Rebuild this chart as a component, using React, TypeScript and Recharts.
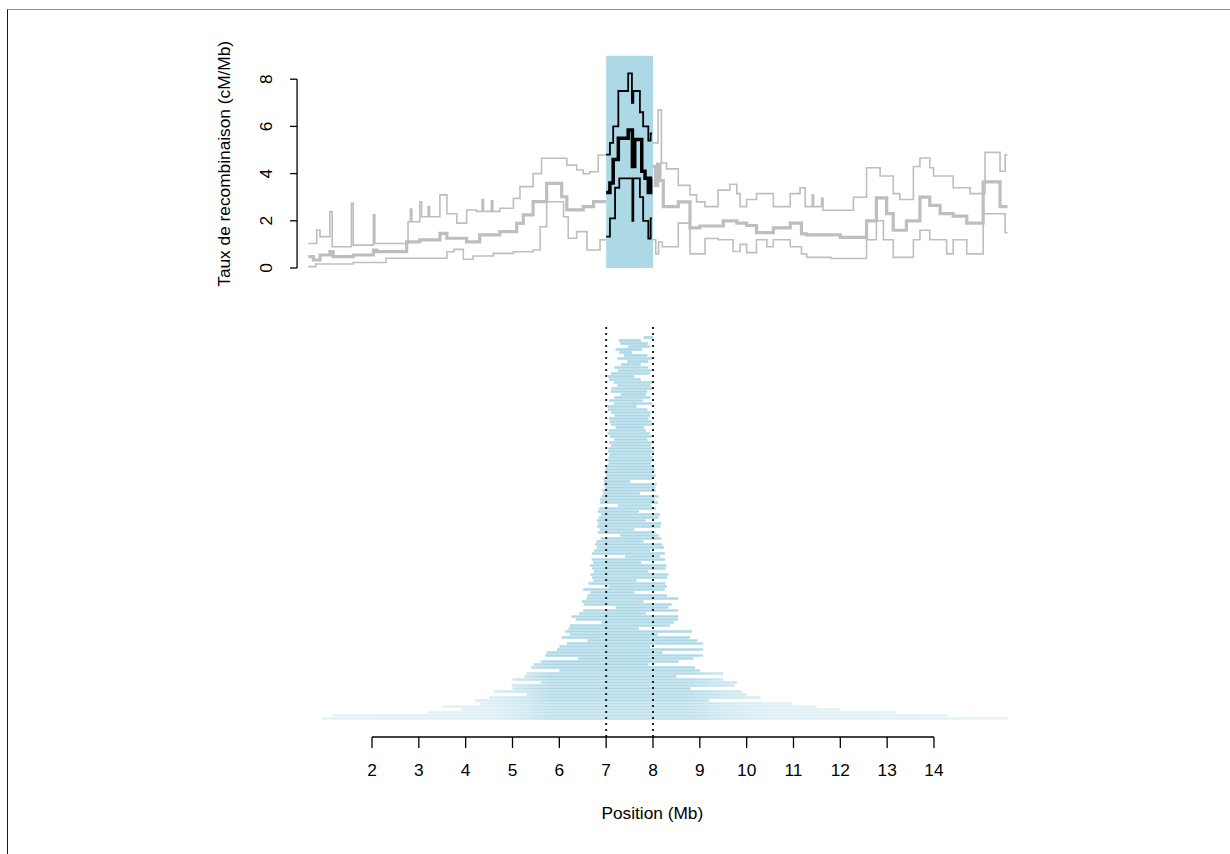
import React from 'react';
import { ComposedChart, Line, Area, XAxis, YAxis, ReferenceLine, Label } from 'recharts';

const FONT = '"Liberation Sans", Arial, Helvetica, sans-serif';
const FS = 17.3;

const X_DOMAIN: [number, number] = [0.4, 15.7];
const X_TICKS = [2, 3, 4, 5, 6, 7, 8, 9, 10, 11, 12, 13, 14];
const Y_TICKS = [0, 2, 4, 6, 8];
const WINDOW_START = 7;
const WINDOW_END = 8;

// ---- Top panel: recombination rate (grey = whole region, black = window) ----
const upperLeftX = [0.64, 0.82, 0.89, 1.10, 1.15, 1.56, 1.60, 2.03, 2.06, 2.77, 2.82, 2.85, 3.02, 3.06, 3.20, 3.23, 3.45, 3.60, 3.81, 4.02, 4.23, 4.35, 4.38, 4.55, 4.58, 4.73, 5.02, 5.16, 5.44, 5.62, 6.16, 6.37, 6.51, 6.65, 6.83, 7.00];
const upperLeftY = [1.04, 1.61, 1.33, 2.39, 0.90, 2.74, 0.97, 2.25, 1.04, 1.96, 2.50, 1.96, 2.80, 2.17, 2.60, 2.17, 3.10, 2.30, 1.90, 2.46, 2.40, 2.90, 2.40, 2.85, 2.40, 2.53, 2.95, 3.45, 4.00, 4.65, 4.36, 4.15, 4.00, 4.08, 4.79, 4.79];
const meanLeftX = [0.64, 0.75, 0.89, 1.10, 1.17, 1.60, 2.03, 2.10, 2.74, 3.02, 3.45, 3.60, 4.02, 4.30, 4.73, 5.09, 5.23, 5.44, 5.73, 6.05, 6.16, 6.51, 6.73, 7.00];
const meanLeftY = [0.48, 0.34, 0.55, 0.69, 0.48, 0.55, 0.76, 0.69, 1.11, 1.19, 1.47, 1.26, 1.11, 1.40, 1.54, 1.89, 2.25, 2.81, 3.59, 3.02, 2.46, 2.60, 2.81, 2.81];
const lowerLeftX = [0.64, 0.80, 1.60, 2.30, 3.60, 3.75, 3.95, 4.16, 4.59, 5.02, 5.44, 5.59, 5.73, 6.09, 6.19, 6.37, 6.59, 6.87, 7.00];
const lowerLeftY = [0.06, 0.17, 0.23, 0.41, 0.69, 0.79, 0.37, 0.51, 0.62, 0.69, 0.76, 1.75, 2.81, 2.17, 1.26, 1.54, 0.76, 1.19, 1.19];

const upperRightX = [8.00, 8.11, 8.18, 8.29, 8.54, 8.79, 8.93, 9.11, 9.39, 9.64, 9.79, 9.86, 10.00, 10.21, 10.57, 10.93, 11.14, 11.25, 11.40, 11.43, 11.60, 11.63, 11.78, 12.28, 12.56, 12.85, 13.13, 13.27, 13.56, 13.70, 13.91, 13.99, 14.41, 14.77, 15.09, 15.41, 15.52, 15.57];
const upperRightY = [5.30, 6.70, 4.45, 4.20, 3.50, 3.10, 2.80, 2.60, 3.30, 3.55, 3.15, 2.60, 2.90, 3.15, 2.60, 3.15, 3.40, 2.60, 3.10, 2.60, 2.95, 2.45, 2.45, 3.00, 4.25, 3.90, 3.15, 2.90, 4.30, 4.66, 4.25, 3.90, 3.40, 3.15, 4.90, 4.10, 4.80, 4.80];
const meanRightX = [8.00, 8.05, 8.10, 8.15, 8.22, 8.54, 8.79, 9.00, 9.50, 9.79, 10.00, 10.21, 10.57, 10.93, 11.17, 11.28, 12.00, 12.56, 12.77, 12.99, 13.13, 13.41, 13.70, 13.91, 14.13, 14.41, 14.70, 15.05, 15.41, 15.57];
const meanRightY = [4.30, 3.50, 4.40, 3.70, 2.60, 2.80, 1.70, 1.78, 2.00, 1.90, 1.80, 1.50, 1.70, 1.90, 1.45, 1.40, 1.30, 2.00, 2.97, 2.30, 1.60, 2.00, 3.00, 2.65, 2.30, 2.20, 1.90, 3.65, 2.60, 2.60];
const lowerRightX = [8.00, 8.06, 8.12, 8.20, 8.54, 8.79, 9.11, 9.39, 9.71, 9.86, 10.00, 10.21, 10.43, 10.57, 10.93, 11.17, 11.28, 11.80, 12.56, 12.77, 12.92, 13.13, 13.56, 13.70, 13.91, 14.27, 14.41, 14.70, 15.05, 15.52, 15.57];
const lowerRightY = [1.20, 0.60, 1.10, 0.90, 1.90, 0.60, 1.25, 1.20, 0.70, 1.00, 0.65, 1.20, 0.90, 1.20, 0.90, 0.60, 0.45, 0.40, 1.20, 2.00, 1.20, 0.45, 1.20, 1.60, 1.20, 0.60, 1.20, 0.60, 2.30, 1.50, 1.50];

const windowUpperX = [7.00, 7.08, 7.15, 7.26, 7.47, 7.55, 7.58, 7.72, 7.79, 7.90, 7.95, 7.98];
const windowUpperY = [4.80, 5.30, 6.00, 7.50, 8.25, 7.00, 7.50, 6.60, 6.00, 5.40, 5.70, 5.70];
const windowMeanX = [7.00, 7.08, 7.15, 7.26, 7.47, 7.56, 7.61, 7.76, 7.83, 7.90, 7.95, 7.98];
const windowMeanY = [3.20, 3.60, 4.60, 5.50, 5.85, 4.30, 5.45, 4.10, 3.80, 3.20, 3.80, 3.80];
const windowLowerX = [7.00, 7.08, 7.19, 7.28, 7.56, 7.58, 7.72, 7.79, 7.90, 7.95, 7.98];
const windowLowerY = [1.33, 2.10, 3.40, 3.80, 2.00, 3.80, 3.00, 2.00, 1.25, 2.10, 2.10];

const BAND_TOP = 9;

// ---- Bottom panel: intervals (start / end in Mb), one per row, top to bottom ----
const intervalStart = [
  7.80, 7.27, 7.30, 7.47, 7.20, 7.28, 7.38, 7.24, 7.45, 7.32,
  7.17, 7.25, 7.10, 7.03, 7.06, 7.17, 7.24, 7.11, 7.10, 7.31,
  7.17, 7.06, 7.17, 7.03, 7.04, 7.10, 7.17, 7.06, 7.08, 7.10,
  7.20, 7.06, 7.03, 7.08, 7.17, 7.06, 7.10, 7.05, 7.04, 7.07,
  7.05, 7.02, 7.05, 7.00, 6.98, 6.97, 7.00, 6.94, 6.95, 6.94,
  6.97, 6.92, 6.94, 6.90, 6.87, 6.87, 7.25, 6.85, 6.82, 6.89,
  6.84, 6.80, 6.83, 6.80, 6.86, 6.82, 7.30, 6.88, 6.79, 6.76,
  6.80, 6.74, 6.70, 7.40, 6.69, 6.72, 6.66, 6.70, 6.74, 6.67,
  6.70, 6.73, 6.62, 7.05, 6.51, 6.66, 6.60, 6.58, 6.48, 6.52,
  7.20, 6.51, 6.42, 6.26, 6.35, 6.90, 6.23, 6.20, 6.12, 6.22,
  6.05, 6.60, 6.16, 6.00, 5.95, 5.73, 5.70, 6.40, 5.60, 5.45,
  5.40, 6.00, 5.30, 5.25, 5.00, 5.60, 4.98, 5.00, 4.60, 5.30,
  4.50, 4.20, 4.30, 3.50, 3.90, 3.20, 1.15, 0.93,
];
const intervalEnd = [
  8.00, 7.74, 7.89, 7.93, 7.77, 7.55, 7.88, 7.98, 7.90, 7.74,
  7.90, 7.97, 7.93, 7.60, 7.74, 7.98, 7.95, 8.00, 7.88, 7.85,
  7.95, 7.78, 7.98, 7.65, 7.88, 7.95, 7.94, 7.90, 7.97, 7.98,
  7.81, 7.85, 7.93, 7.98, 7.88, 8.00, 7.96, 7.97, 8.02, 7.95,
  7.99, 8.03, 7.96, 8.02, 8.04, 7.98, 8.06, 7.98, 7.52, 8.08,
  8.05, 8.06, 7.72, 8.12, 8.04, 8.11, 7.97, 8.06, 7.70, 8.15,
  8.12, 7.85, 8.18, 8.16, 7.60, 8.05, 8.12, 8.18, 7.80, 8.20,
  8.24, 7.95, 8.25, 8.15, 8.26, 7.75, 8.29, 8.27, 7.90, 8.33,
  8.30, 7.65, 8.26, 8.30, 8.25, 7.60, 8.30, 8.54, 7.80, 8.40,
  8.33, 8.54, 7.85, 8.54, 8.54, 8.45, 8.36, 7.70, 8.83, 8.10,
  8.79, 8.95, 9.07, 7.95, 9.07, 8.20, 9.07, 8.86, 8.55, 7.90,
  8.90, 9.00, 9.50, 8.50, 9.50, 9.80, 9.75, 8.80, 9.90, 10.00,
  10.30, 9.20, 10.97, 11.50, 12.00, 13.20, 14.30, 15.58,
];

const toPoints = (xs: number[], ys: number[]) => xs.map((x, i) => ({ x, y: ys[i] }));

const upperLeft = toPoints(upperLeftX, upperLeftY);
const meanLeft = toPoints(meanLeftX, meanLeftY);
const lowerLeft = toPoints(lowerLeftX, lowerLeftY);
const upperRight = toPoints(upperRightX, upperRightY);
const meanRight = toPoints(meanRightX, meanRightY);
const lowerRight = toPoints(lowerRightX, lowerRightY);
const windowUpper = toPoints(windowUpperX, windowUpperY);
const windowMean = toPoints(windowMeanX, windowMeanY);
const windowLower = toPoints(windowLowerX, windowLowerY);
const bandData = [
  { x: WINDOW_START, y: BAND_TOP },
  { x: WINDOW_END, y: BAND_TOP },
];

const intervals = intervalStart.map((s, i) => ({ row: i, start: s, end: intervalEnd[i] }));
// half-pixel offset so that each 3px row lands on whole pixels
const ROW_TOP = -4.833;
const ROW_BOTTOM = 133.167;

const rowOpacity = (w: number) => (w > 6 ? 0.8 : w > 4 ? 0.9 : 1);

const GREY = '#bebebe';
const BLUE = '#add8e6';

// plot geometry (page px) used only to place the horizontal fade of the interval colour
const PLOT_LEFT = 297.07;
const PLOT_RIGHT = 1013.6;
const fadeOffset = (mb: number) => (mb - X_DOMAIN[0]) / (X_DOMAIN[1] - X_DOMAIN[0]);

const RotTick = (props: any) => {
  const { x, y, payload } = props;
  const cx = x - 24;
  return (
    <text
      x={cx}
      y={y}
      transform={`rotate(-90 ${cx} ${y})`}
      textAnchor="middle"
      dominantBaseline="central"
      fill="#000"
      fontSize={FS}
      fontFamily={FONT}
    >
      {payload.value}
    </text>
  );
};

export default function App() {
  const lineCommon = { type: 'stepAfter' as const, dataKey: 'y', dot: false, isAnimationActive: false, activeDot: false as any };
  return (
    <div style={{ position: 'absolute', left: 0, top: 0, width: 1230, height: 854, background: '#fff', fontFamily: FONT }}>
      <div
        style={{
          position: 'absolute',
          left: 7,
          top: 9,
          width: 1223,
          height: 845,
          borderTop: '1px solid #8c8c8c',
          borderLeft: '1px solid #1a1a1a',
          boxSizing: 'border-box',
        }}
      />
      <div style={{ position: 'absolute', left: 0, top: 0 }}>
        <ComposedChart width={1230} height={300} margin={{ top: 55.6, right: 216.4, bottom: 32, left: 237.07 }}>
          <XAxis type="number" dataKey="x" domain={X_DOMAIN} hide allowDataOverflow />
          <YAxis
            type="number"
            domain={[0, BAND_TOP]}
            ticks={Y_TICKS}
            width={60}
            axisLine={false}
            tickLine={{ stroke: '#000', strokeWidth: 1.3 }}
            tickSize={7}
            tickMargin={0}
            tick={<RotTick />}
            allowDataOverflow
          >
            <Label
              content={(p: any) => {
                const vb = p.viewBox || { x: 237, y: 55.6, height: 212.4 };
                const cx = vb.x - 13;
                const cy = vb.y + vb.height / 2 + 2;
                return (
                  <text
                    x={cx}
                    y={cy}
                    transform={`rotate(-90 ${cx} ${cy})`}
                    textAnchor="middle"
                    dominantBaseline="central"
                    fill="#000"
                    fontSize={FS}
                    fontFamily={FONT}
                  >
                    Taux de recombinaison (cM/Mb)
                  </text>
                );
              }}
            />
          </YAxis>
          <Area data={bandData} dataKey="y" type="linear" fill={BLUE} fillOpacity={1} stroke="none" isAnimationActive={false} />
          <Line {...lineCommon} data={upperLeft} stroke={GREY} strokeWidth={1.6} />
          <Line {...lineCommon} data={lowerLeft} stroke={GREY} strokeWidth={1.6} />
          <Line {...lineCommon} data={meanLeft} stroke={GREY} strokeWidth={3.2} />
          <Line {...lineCommon} data={upperRight} stroke={GREY} strokeWidth={1.6} />
          <Line {...lineCommon} data={lowerRight} stroke={GREY} strokeWidth={1.6} />
          <Line {...lineCommon} data={meanRight} stroke={GREY} strokeWidth={3.2} />
          <Line {...lineCommon} data={windowUpper} stroke="#000" strokeWidth={1.8} />
          <Line {...lineCommon} data={windowLower} stroke="#000" strokeWidth={1.8} />
          <Line {...lineCommon} data={windowMean} stroke="#000" strokeWidth={3.5} />
          <ReferenceLine
            segment={[{ x: X_DOMAIN[0], y: 0 }, { x: X_DOMAIN[0], y: 8 }]}
            stroke="#000"
            strokeWidth={1.3}
            ifOverflow="visible"
          />
        </ComposedChart>
      </div>
      <div style={{ position: 'absolute', left: 0, top: 300 }}>
        <ComposedChart width={1230} height={554} data={intervals} margin={{ top: 23, right: 216.4, bottom: 57, left: 297.07 }}>
          <defs>
            <linearGradient id="intervalFade" gradientUnits="userSpaceOnUse" x1={PLOT_LEFT} y1={0} x2={PLOT_RIGHT} y2={0}>
              <stop offset={0} stopColor={BLUE} stopOpacity={0.4} />
              <stop offset={fadeOffset(4.5)} stopColor={BLUE} stopOpacity={0.5} />
              <stop offset={fadeOffset(5.3)} stopColor={BLUE} stopOpacity={0.75} />
              <stop offset={fadeOffset(5.8)} stopColor={BLUE} stopOpacity={1} />
              <stop offset={fadeOffset(8.8)} stopColor={BLUE} stopOpacity={1} />
              <stop offset={fadeOffset(9.4)} stopColor={BLUE} stopOpacity={0.75} />
              <stop offset={fadeOffset(10.5)} stopColor={BLUE} stopOpacity={0.5} />
              <stop offset={1} stopColor={BLUE} stopOpacity={0.4} />
            </linearGradient>
          </defs>
          <XAxis
            type="number"
            dataKey="start"
            domain={X_DOMAIN}
            ticks={X_TICKS}
            interval={0}
            allowDataOverflow
            axisLine={false}
            tickLine={{ stroke: '#000', strokeWidth: 1.3 }}
            tickSize={11}
            tickMargin={16}
            height={60}
            tick={{ fill: '#000', fontSize: FS, fontFamily: FONT }}
          >
            <Label
              content={(p: any) => {
                const vb = p.viewBox || { x: 297, y: 437, width: 716 };
                const cx = vb.x + vb.width / 2 - 3;
                const cy = vb.y + 76;
                return (
                  <text x={cx} y={cy} textAnchor="middle" dominantBaseline="central" fill="#000" fontSize={FS} fontFamily={FONT}>
                    Position (Mb)
                  </text>
                );
              }}
            />
          </XAxis>
          <YAxis type="number" dataKey="row" domain={[ROW_TOP, ROW_BOTTOM]} reversed hide width={0} allowDataOverflow />
          {intervals.map((s) => (
            <ReferenceLine
              key={s.row}
              segment={[{ x: s.start, y: s.row }, { x: s.end, y: s.row }]}
              stroke="url(#intervalFade)"
              strokeWidth={2.7}
              strokeOpacity={rowOpacity(s.end - s.start)}
              ifOverflow="visible"
            />
          ))}
          <ReferenceLine x={WINDOW_START} stroke="#222" strokeWidth={2} strokeDasharray="2 4" />
          <ReferenceLine x={WINDOW_END} stroke="#222" strokeWidth={2} strokeDasharray="2 4" />
          <ReferenceLine
            segment={[{ x: 2, y: ROW_BOTTOM }, { x: 14, y: ROW_BOTTOM }]}
            stroke="#000"
            strokeWidth={1.3}
            ifOverflow="visible"
          />
        </ComposedChart>
      </div>
    </div>
  );
}
